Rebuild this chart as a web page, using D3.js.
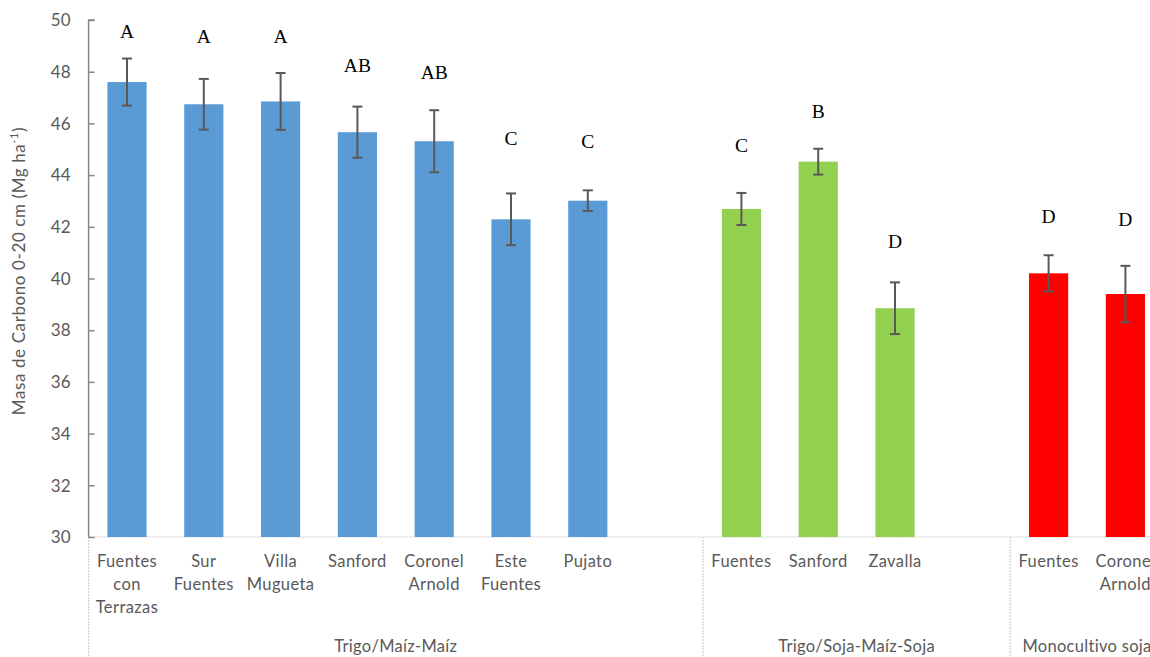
<!DOCTYPE html>
<html>
<head>
<meta charset="utf-8">
<script src="https://cdn.jsdelivr.net/npm/d3@7/dist/d3.min.js"></script>
<style>
  html, body { margin: 0; padding: 0; background: #fff; }
  svg { display: block; }
</style>
</head>
<body>
<svg id="chart" width="1150" height="657"></svg>
<script>
// Soil carbon stock (0-20 cm) by site and crop rotation
const sites = [
  "Fuentes con Terrazas", "Sur Fuentes", "Villa Mugueta", "Sanford", "Coronel Arnold",
  "Este Fuentes", "Pujato", "Fuentes", "Sanford", "Zavalla", "Fuentes", "Coronel Arnold"
];
const siteLines = [
  ["Fuentes", "con", "Terrazas"], ["Sur", "Fuentes"], ["Villa", "Mugueta"], ["Sanford"],
  ["Coronel", "Arnold"], ["Este", "Fuentes"], ["Pujato"], ["Fuentes"], ["Sanford"],
  ["Zavalla"], ["Fuentes"], ["Coronel", "Arnold"]
];
const rotation = [0, 0, 0, 0, 0, 0, 0, 1, 1, 1, 2, 2];
const carbon = [47.60, 46.74, 46.85, 45.66, 45.31, 42.29, 43.01, 42.69, 44.52, 38.85, 40.20, 39.40];
const stdErr = [0.91, 0.98, 1.10, 0.99, 1.20, 1.00, 0.40, 0.62, 0.50, 1.00, 0.70, 1.09];
const letters = ["A", "A", "A", "AB", "AB", "C", "C", "C", "B", "D", "D", "D"];
const letterLevel = [49.29, 49.12, 49.12, 47.98, 47.71, 45.15, 45.06, 44.91, 46.20, 41.17, 42.14, 42.03];
const rotations = ["Trigo/Maíz-Maíz", "Trigo/Soja-Maíz-Soja", "Monocultivo soja"];
const rotationColors = ["#5B9BD5", "#92D050", "#FF0000"];
const yTicks = [30, 32, 34, 36, 38, 40, 42, 44, 46, 48, 50];

// Category slots: each rotation group is followed by an empty slot (except the last)
const slots = [];
rotations.forEach((g, gi) => {
  sites.forEach((s, i) => { if (rotation[i] === gi) slots.push("s" + i); });
  if (gi < rotations.length - 1) slots.push("gap" + gi);
});

const svg = d3.select("#chart");
const left = 88.6, step = 76.8;
const x = d3.scaleBand()
  .domain(slots)
  .range([left, left + step * slots.length])
  .paddingInner(0.49)
  .paddingOuter(0.245);
const y = d3.scaleLinear().domain([30, 50]).range([537, 20]);

const labelFont = "Lato, 'Open Sans', sans-serif";
const gray = "#595959";

// Category-axis frame: baseline, left border and group separators
const axisBottom = y(30);
svg.append("line")
  .attr("x1", x.range()[0]).attr("x2", x.range()[1])
  .attr("y1", axisBottom).attr("y2", axisBottom)
  .attr("stroke", "#d0d0d0").attr("stroke-width", 1.2)
  .attr("stroke-dasharray", "2,1");

const groupBounds = rotations.map((g, gi) => {
  const keys = slots.filter(k => {
    // group gi spans its sites plus its trailing gap
    if (k.startsWith("gap")) return +k.slice(3) === gi;
    return rotation[+k.slice(1)] === gi;
  });
  const start = x(keys[0]) - x.step() * x.paddingInner() / 2;
  const end = x(keys[keys.length - 1]) + x.bandwidth() + x.step() * x.paddingInner() / 2;
  return [start, end];
});
groupBounds[0][0] = x.range()[0];
groupBounds[groupBounds.length - 1][1] = x.range()[1];

groupBounds.forEach(([s]) => {
  svg.append("line")
    .attr("x1", s).attr("x2", s)
    .attr("y1", axisBottom).attr("y2", 657)
    .attr("stroke", "#d0d0d0").attr("stroke-width", 1.2)
    .attr("stroke-dasharray", "2,1");
});

// Bars
const idx = d3.range(sites.length);
svg.append("g").selectAll("rect")
  .data(idx)
  .join("rect")
  .attr("x", i => x("s" + i))
  .attr("width", x.bandwidth())
  .attr("y", i => y(carbon[i]))
  .attr("height", i => y(30) - y(carbon[i]))
  .attr("fill", i => rotationColors[rotation[i]]);

// Error bars
const eb = svg.append("g").attr("stroke", gray).attr("stroke-width", 2);
idx.forEach(i => {
  const cx = x("s" + i) + x.bandwidth() / 2;
  const hi = y(carbon[i] + stdErr[i]), lo = y(carbon[i] - stdErr[i]);
  eb.append("line").attr("x1", cx).attr("x2", cx).attr("y1", hi).attr("y2", lo);
  eb.append("line").attr("x1", cx - 5).attr("x2", cx + 5).attr("y1", hi).attr("y2", hi);
  eb.append("line").attr("x1", cx - 5).attr("x2", cx + 5).attr("y1", lo).attr("y2", lo);
});

// Significance letters
svg.append("g").selectAll("text")
  .data(idx)
  .join("text")
  .attr("x", i => x("s" + i) + x.bandwidth() / 2)
  .attr("y", i => y(letterLevel[i]))
  .attr("text-anchor", "middle")
  .attr("font-family", "'Liberation Serif', 'Times New Roman', serif")
  .attr("font-size", 19.5)
  .attr("fill", "#000")
  .text(i => letters[i]);

// Value axis
const yAxis = svg.append("g")
  .attr("transform", `translate(${x.range()[0]},0)`)
  .call(d3.axisRight(y).tickValues(yTicks).tickSize(6).tickFormat(d3.format("d")));
yAxis.select(".domain").attr("stroke", "#868686").attr("stroke-width", 1.5)
  .attr("d", `M6,${y(50)}H0V${y(30)}`);
yAxis.selectAll(".tick line").attr("stroke", "#868686").attr("stroke-width", 1.5);
yAxis.selectAll(".tick text")
  .attr("x", -18)
  .attr("text-anchor", "end")
  .attr("dy", "0.34em")
  .attr("font-family", labelFont)
  .attr("font-size", 17)
  .attr("fill", gray);

// Site labels
const siteG = svg.append("g")
  .attr("font-family", labelFont)
  .attr("font-size", 16.5)
  .attr("letter-spacing", 0.4)
  .attr("fill", gray)
  .attr("text-anchor", "middle");
idx.forEach(i => {
  const cx = x("s" + i) + x.bandwidth() / 2;
  const t = siteG.append("text").attr("x", cx).attr("y", 567);
  siteLines[i].forEach((ln, li) => {
    t.append("tspan")
      .attr("x", cx)
      .attr("dy", li === 0 ? 0 : 23)
      .text(ln);
  });
});

// Rotation group labels
svg.append("g").selectAll("text")
  .data(rotations)
  .join("text")
  .attr("x", (g, gi) => (groupBounds[gi][0] + groupBounds[gi][1]) / 2)
  .attr("y", 652)
  .attr("text-anchor", "middle")
  .attr("font-family", labelFont)
  .attr("font-size", 16.5)
  .attr("letter-spacing", 0.3)
  .attr("fill", gray)
  .text(g => g);

// Value-axis title
const title = svg.append("text")
  .attr("transform", "translate(25,271) rotate(-90)")
  .attr("text-anchor", "middle")
  .attr("font-family", labelFont)
  .attr("font-size", 17)
  .attr("letter-spacing", 0.6)
  .attr("fill", gray);
title.append("tspan").text("Masa de Carbono  0-20 cm (Mg ha");
title.append("tspan").attr("font-size", 11).attr("dy", -7).text("-1");
title.append("tspan").attr("dy", 7).text(")");
</script>
</body>
</html>
